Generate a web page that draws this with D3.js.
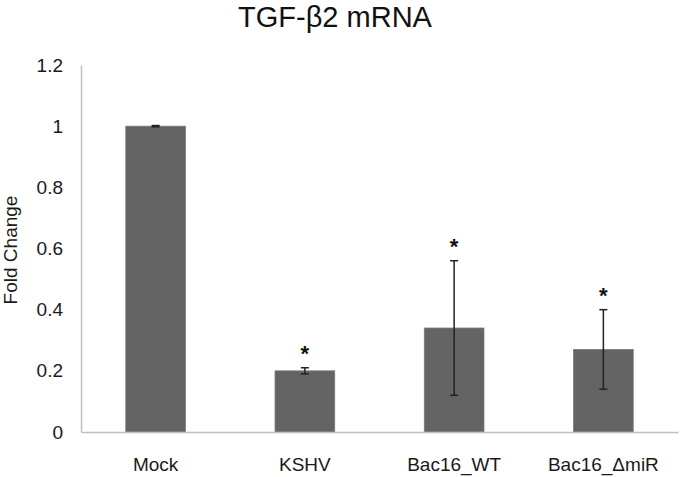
<!DOCTYPE html>
<html>
<head>
<meta charset="utf-8">
<script src="https://cdn.jsdelivr.net/npm/d3@7"></script>
<style>
html,body{margin:0;padding:0;background:#fff;}
svg{display:block;font-family:"Liberation Sans",Arial,sans-serif;}
</style>
</head>
<body>
<div id="chart"></div>
<script>
const categories = ["Mock", "KSHV", "Bac16_WT", "Bac16_ΔmiR"];
const values = [1.0, 0.2, 0.34, 0.27];
const errors = [0.002, 0.01, 0.22, 0.13];
const significant = [false, true, true, true];
const yTicks = [0, 0.2, 0.4, 0.6, 0.8, 1, 1.2];
const titleText = "TGF-β2 mRNA";
const yLabel = "Fold Change";

const W = 680, H = 477;
const margin = {top: 65, right: 2, bottom: 45, left: 81};
const svg = d3.select("#chart").append("svg").attr("width", W).attr("height", H);

const x = d3.scaleBand().domain(categories).range([margin.left, W - margin.right]).paddingInner(0.6).paddingOuter(0.3);
const y = d3.scaleLinear().domain([0, 1.2]).range([H - margin.bottom, margin.top]);

// title
svg.append("text").attr("x", 335).attr("y", 27).attr("text-anchor", "middle")
  .attr("font-size", 29).attr("fill", "#111").text(titleText);

// y axis
const yAxis = d3.axisLeft(y).tickValues(yTicks).tickSize(0).tickPadding(18)
  .tickFormat(d => d3.format("")(+d.toFixed(1)));
const gy = svg.append("g").attr("transform", `translate(${margin.left},0)`).call(yAxis);
gy.select(".domain").attr("stroke", "#bfbfbf").attr("stroke-width", 1.5);
gy.selectAll("text").attr("font-size", 19).attr("fill", "#1a1a1a").attr("font-family", "Liberation Sans, Arial, sans-serif");

// y label
svg.append("text").attr("transform", `translate(17,250) rotate(-90)`).attr("text-anchor", "middle")
  .attr("font-size", 19).attr("fill", "#1a1a1a").text(yLabel);

// bars
svg.append("g").selectAll("rect").data(categories).join("rect")
  .attr("x", d => x(d)).attr("width", x.bandwidth())
  .attr("y", (d, i) => y(values[i])).attr("height", (d, i) => y(0) - y(values[i]))
  .attr("fill", "#646464").attr("stroke", "#7a7a7a").attr("stroke-width", 0.8);

// x axis
const xAxis = d3.axisBottom(x).tickSize(0).tickPadding(26);
const gx = svg.append("g").attr("transform", `translate(0,${y(0)})`).call(xAxis);
gx.select(".domain").attr("stroke", "#bfbfbf").attr("stroke-width", 1.5);
gx.selectAll("text").attr("font-size", 19).attr("fill", "#1a1a1a").attr("font-family", "Liberation Sans, Arial, sans-serif");

// error bars
const eg = svg.append("g").attr("stroke", "#222").attr("stroke-width", 1.5);
categories.forEach((c, i) => {
  const cx = x(c) + x.bandwidth() / 2;
  const hi = y(values[i] + errors[i]), lo = y(values[i] - errors[i]);
  eg.append("line").attr("x1", cx).attr("x2", cx).attr("y1", hi).attr("y2", lo);
  eg.append("line").attr("x1", cx - 4).attr("x2", cx + 4).attr("y1", hi).attr("y2", hi);
  eg.append("line").attr("x1", cx - 4).attr("x2", cx + 4).attr("y1", lo).attr("y2", lo);
  if (significant[i]) {
    svg.append("text").attr("x", cx).attr("y", hi - 7).attr("text-anchor", "middle")
      .attr("font-size", 22).attr("font-weight", "bold").attr("fill", "#111").text("*");
  }
});
</script>
</body>
</html>
